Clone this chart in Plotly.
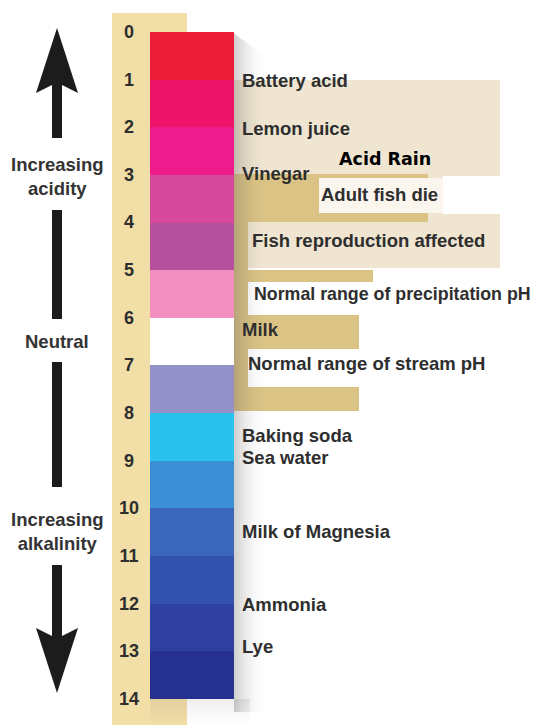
import plotly.graph_objects as go

# ---------------- data ----------------
ph_levels = list(range(15))                      # tick numbers 0..14
band_start = list(range(14))                     # each colour band spans [i, i+1]
band_colors = ["#EC1D38", "#EE1568", "#EC1C8D", "#D6489C", "#B5509F",
               "#F28FBE", "#FFFFFF", "#9391C7", "#29C2EF", "#3B8FD5",
               "#3A67B9", "#3352AD", "#2F40A0", "#26318F"]

substances = ["Battery acid", "Lemon juice", "Vinegar", "Milk",
              "Baking soda", "Sea water", "Milk of Magnesia", "Ammonia", "Lye"]
substance_ph = [1.05, 2.06, 3.0, 6.28, 8.5, 8.98, 10.52, 12.05, 12.93]

effects = ["Adult fish die", "Fish reproduction affected",
           "Normal range of precipitation pH", "Normal range of stream pH"]
effect_ph = [3.44, 4.41, 5.54, 6.99]

acid_rain_label = "Acid Rain"
acid_rain_ph = 2.69

# ---------------- geometry helpers (layout only) ----------------
W, H = 547, 725
OFF = 8            # page body margin: figure starts 8px in from the window edge
Y0, PX_PER_PH = 32.0, 47.64


def ph(ypx):
    return (ypx - Y0) / PX_PER_PH


FONT = "Liberation Sans, Arial, Helvetica, sans-serif"
TXT = "#2e2e2e"
FS = 18.5

fig = go.Figure()

# colour bar
fig.add_trace(go.Bar(
    x=[192] * len(band_start), y=[1] * len(band_start), base=band_start,
    width=84, marker=dict(color=band_colors, line=dict(width=0)),
    hoverinfo="skip", showlegend=False))

# pH numbers
fig.add_trace(go.Scatter(
    x=[129] * len(ph_levels), y=[v + 0.03 for v in ph_levels],
    text=[str(v) for v in ph_levels], mode="text",
    textfont=dict(family=FONT, size=18, color=TXT, weight="bold"),
    textposition="middle center", hoverinfo="skip", showlegend=False,
    cliponaxis=False))

# substance labels
fig.add_trace(go.Scatter(
    x=[242] * len(substances), y=substance_ph, text=substances, mode="text",
    textposition="middle right",
    textfont=dict(family=FONT, size=FS, color=TXT, weight="bold"),
    hoverinfo="skip", showlegend=False, cliponaxis=False))

# effect labels
effect_x = [321, 252, 254, 248]
effect_fs = [FS, FS, 17.8, FS]
fig.add_trace(go.Scatter(
    x=effect_x, y=effect_ph, text=effects, mode="text",
    textposition="middle right",
    textfont=dict(family=FONT, size=effect_fs, color=TXT, weight="bold"),
    hoverinfo="skip", showlegend=False, cliponaxis=False))

# acid rain heading
fig.add_trace(go.Scatter(
    x=[339], y=[acid_rain_ph], text=[acid_rain_label], mode="text",
    textposition="middle right",
    textfont=dict(family="DejaVu Sans, sans-serif", size=17.5, color="#000000", weight="bold"),
    hoverinfo="skip", showlegend=False, cliponaxis=False))

# ---------------- decorative shapes ----------------
shapes = []
LIGHT = "#EFE5D1"
TAN = "#DBC385"
STRIP = "#F2DEA7"


def rect(x0, x1, y0, y1, color):
    shapes.append(dict(type="rect", xref="x", yref="y", x0=x0, x1=x1,
                       y0=ph(y0), y1=ph(y1), fillcolor=color,
                       line=dict(width=0), layer="below"))


# tan strip behind numbers
rect(112, 187, 13, 725, STRIP)
# acid-rain region boxes
rect(234, 500, 80, 268, LIGHT)
rect(443, 500, 176, 214, "#FFFFFF")
rect(234, 428, 174, 222, TAN)
rect(319, 443, 178, 213, "#FAF6EE")
rect(234, 248, 222, 411, TAN)
rect(248, 500, 222, 268, LIGHT)
rect(234, 373, 270, 282, TAN)
rect(248, 547, 282, 315, "#FFFFFF")
rect(234, 359, 315, 349, TAN)
rect(248, 500, 349, 387, "#FFFFFF")
rect(234, 359, 387, 411, TAN)

# soft shadow to the right of the colour bar
n = 16
for i in range(n):
    a = 0.28 * (1 - i / n) ** 2
    top = 34 + 1.5 * i
    shapes.append(dict(type="rect", xref="x", yref="y", x0=234 + 2 * i, x1=236 + 2 * i,
                       y0=ph(top), y1=ph(712), fillcolor="rgba(90,90,90,%.3f)" % a,
                       line=dict(width=0), layer="below"))
# shadow under the bar bottom
for i in range(8):
    a = 0.10 * (1 - i / 8)
    shapes.append(dict(type="rect", xref="x", yref="y", x0=150, x1=250,
                       y0=ph(699 + 3 * i), y1=ph(702 + 3 * i),
                       fillcolor="rgba(90,90,90,%.3f)" % a,
                       line=dict(width=0), layer="below"))


def path(pts):
    s = "M " + " L ".join("%g,%g" % (x, ph(y)) for x, y in pts) + " Z"
    shapes.append(dict(type="path", xref="x", yref="y", path=s,
                       fillcolor="#1c1c1c", line=dict(width=0), layer="above"))


# up arrow
path([(57, 28), (78, 93), (62, 85), (62, 138), (52, 138), (52, 85), (36, 93)])
# shafts
path([(52, 210), (62, 210), (62, 319), (52, 319)])
path([(52, 362), (62, 362), (62, 487), (52, 487)])
# down arrow
path([(52, 565), (62, 565), (62, 636), (78, 628), (57, 693), (36, 628), (52, 636)])

# left side captions
annotations = []
for txt, y in [("Increasing<br>acidity", 176), ("Neutral", 341),
               ("Increasing<br>alkalinity", 531)]:
    annotations.append(dict(x=57, y=ph(y), xref="x", yref="y", text=txt,
                            showarrow=False, xanchor="center", yanchor="middle",
                            font=dict(family=FONT, size=FS, color="#333333", weight="bold")))

fig.update_layout(
    width=W - OFF, height=H - OFF, margin=dict(l=0, r=0, t=0, b=0),
    paper_bgcolor="#FFFFFF", plot_bgcolor="#FFFFFF",
    barmode="overlay", bargap=0,
    xaxis=dict(range=[OFF, W], visible=False, fixedrange=True),
    yaxis=dict(range=[ph(H), ph(OFF)], visible=False, fixedrange=True),
    shapes=shapes, annotations=annotations, showlegend=False)

fig.write_html("out.html")
